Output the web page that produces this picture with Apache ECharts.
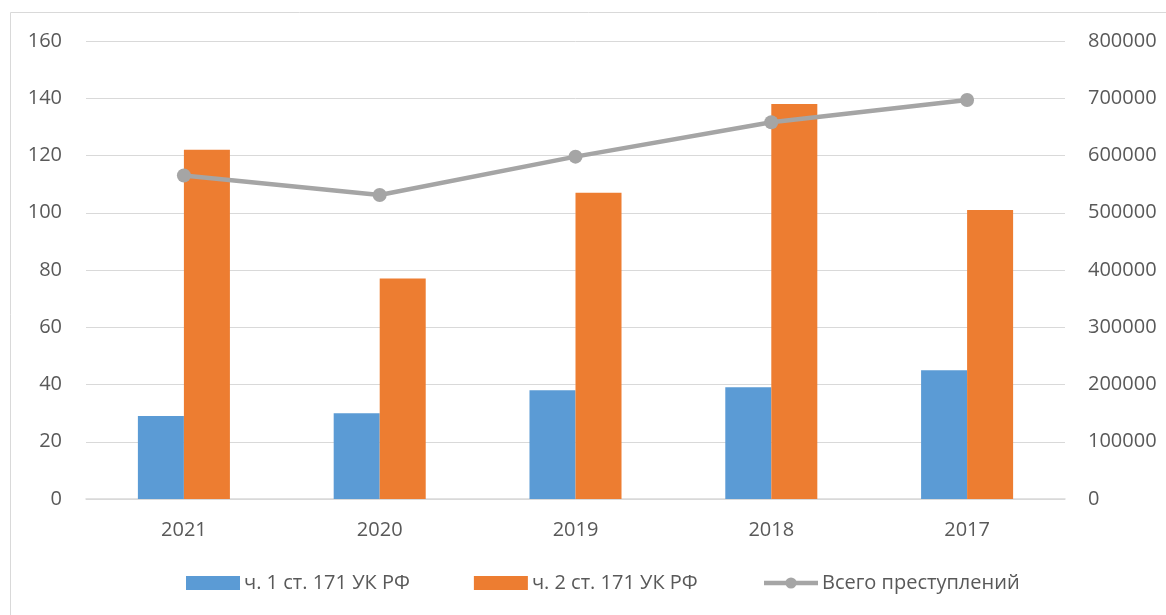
<!DOCTYPE html>
<html>
<head>
<meta charset="utf-8">
<script src="https://cdn.jsdelivr.net/npm/echarts@6/dist/echarts.min.js"></script>
<style>
  html, body { margin: 0; padding: 0; background: #fff; }
  #chart { width: 1166px; height: 615px; }
</style>
</head>
<body>
<div id="chart"></div>
<script>
var years = ['2021', '2020', '2019', '2018', '2017'];
var part1 = [29, 30, 38, 39, 45];
var part2 = [122, 77, 107, 138, 101];
var totalCrimes = [565000, 531000, 598000, 658000, 697000];

var seriesNames = ['ч. 1 ст. 171 УК РФ', 'ч. 2 ст. 171 УК РФ', 'Всего преступлений'];

var font = 'Open Sans';
var textColor = '#595959';
var fontSize = 20;

var myChart = echarts.init(document.getElementById('chart'));
myChart.setOption({
    animation: false,
    textStyle: { fontFamily: font },
    graphic: [{
        type: 'rect',
        shape: { x: 10.5, y: 12.5, width: 1180, height: 640 },
        style: { fill: 'none', stroke: '#d9d9d9', lineWidth: 1 },
        silent: true
    }],
    grid: { left: 86, right: 101, top: 41, bottom: 116 },
    legend: {
        top: 568,
        left: 181,
        itemGap: 64,
        itemWidth: 54,
        itemHeight: 14,
        textStyle: { color: textColor, fontSize: fontSize, fontFamily: font, padding: [0, 0, 0, -1] },
        data: [
            { name: seriesNames[0], icon: 'rect' },
            { name: seriesNames[1], icon: 'rect' },
            { name: seriesNames[2], lineStyle: { width: 4.5 } }
        ]
    },
    xAxis: {
        type: 'category',
        data: years,
        axisLine: { lineStyle: { color: '#d9d9d9', width: 1.5 } },
        axisTick: { show: false },
        axisLabel: { color: textColor, fontSize: fontSize, margin: 21 }
    },
    yAxis: [{
        type: 'value',
        min: 0,
        max: 160,
        interval: 20,
        axisLine: { show: false },
        axisTick: { show: false },
        axisLabel: { color: textColor, fontSize: fontSize, margin: 24 },
        splitLine: { lineStyle: { color: '#d9d9d9', width: 1 } }
    }, {
        type: 'value',
        min: 0,
        max: 800000,
        interval: 100000,
        axisLine: { show: false },
        axisTick: { show: false },
        axisLabel: {
            color: textColor,
            fontSize: fontSize,
            margin: 23,
            formatter: function (v) { return String(v); }
        },
        splitLine: { show: false }
    }],
    series: [{
        name: seriesNames[0],
        type: 'bar',
        data: part1,
        barWidth: '23.5%',
        barGap: '0%',
        itemStyle: { color: '#5b9bd5' }
    }, {
        name: seriesNames[1],
        type: 'bar',
        data: part2,
        barWidth: '23.5%',
        itemStyle: { color: '#ed7d31' }
    }, {
        name: seriesNames[2],
        type: 'line',
        yAxisIndex: 1,
        data: totalCrimes,
        symbol: 'circle',
        symbolSize: 14,
        lineStyle: { color: '#a5a5a5', width: 4.5 },
        itemStyle: { color: '#a5a5a5' }
    }]
});
</script>
</body>
</html>
